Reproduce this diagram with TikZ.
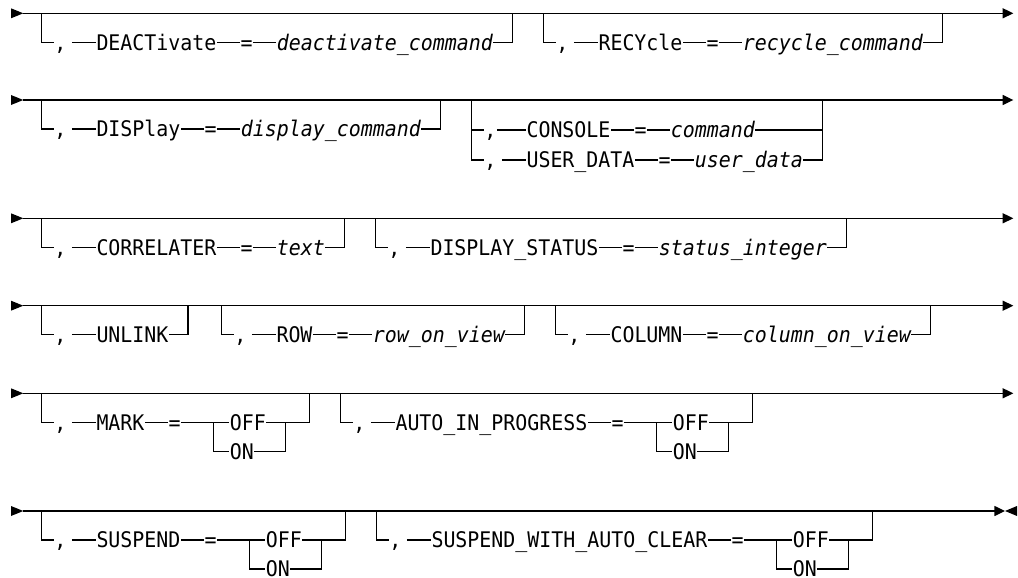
\documentclass[tikz,border=0pt]{standalone}
\usepackage{fontspec}
\newfontfamily\rrfont{DejaVu Sans Mono}[FakeStretch=0.927,ItalicFont={DejaVu Sans Mono Oblique}]
\usetikzlibrary{positioning,calc,arrows.meta}

\begin{document}
\begin{tikzpicture}[x=1pt,y=-1pt,line width=1.2pt,>={Triangle[length=10.6pt,width=10pt]},
  tok/.style={inner sep=0pt,anchor=west,text height=15.5pt,text depth=0pt,
    font=\rrfont\fontsize{21.5}{24}\selectfont},
  var/.style={tok,font=\rrfont\itshape\fontsize{21.5}{24}\selectfont}]
\useasboundingbox (0,0) rectangle (1018,578);
% main lines of the six rows
\foreach \r/\y/\e in {1/13.3/1013.3,2/100/1013.3,3/218.3/1013.3,4/305.7/1013.3,5/393.3/1013.3,6/511/1005}{
  \coordinate (r\r-s) at (23.3,\y);
  \coordinate (r\r-t) at (\e,\y);
  \fill (r\r-s) ++(-12.3,-5) -- (r\r-s) -- ++(-12.3,5) -- cycle;
  \draw[->] (r\r-s) -- (r\r-t);
}
\fill (r6-t) -- ++(12,-5) -- ++(0,10) -- cycle;
% optional keyword = value groups
\foreach \n/\xl/\yl/\kw/\val in {a/41.7/13.3/DEACTivate/deactivate\_command,
    b/543.7/13.3/RECYcle/recycle\_command,
    c/41.7/100/DISPlay/display\_command,
    d/41.7/218.3/CORRELATER/text,
    e/375.7/218.3/DISPLAY\_STATUS/status\_integer,
    f/221.7/305.7/ROW/row\_on\_view,
    g/555.7/305.7/COLUMN/column\_on\_view}{
  \coordinate (\n-L) at (\xl,\yl);
  \node[tok] (\n-c) at (\xl+12,\yl+29) {,};
  \node[tok, right=29pt of \n-c] (\n-k) {\kw};
  \node[tok, right=23pt of \n-k] (\n-e) {=};
  \node[var, right=23pt of \n-e] (\n-v) {\val};
  \coordinate (\n-R) at ($(\n-v.east)+(19,0)$);
  \draw (\n-L) |- (\n-c.west) (\n-k) -- (\n-e) (\n-e) -- (\n-v)
    (\n-v.east) -- (\n-R) -- (\n-R |- \n-L);
  \draw[shorten <=5pt] (\n-c) -- (\n-k);
}
% CONSOLE / USER_DATA choice
\coordinate (h-L) at (471.7,100);
\node[tok] (h-c1) at (483.7,130) {,};
\node[tok, right=29pt of h-c1] (h-k1) {CONSOLE};
\node[tok, right=23pt of h-k1] (h-e1) {=};
\node[var, right=23pt of h-e1] (h-v1) {command};
\node[tok] (h-c2) at (483.7,160) {,};
\node[tok, right=29pt of h-c2] (h-k2) {USER\_DATA};
\node[tok, right=23pt of h-k2] (h-e2) {=};
\node[var, right=23pt of h-e2] (h-v2) {user\_data};
\coordinate (h-R) at ($(h-v2.east)+(19,0)$);
\draw (h-L) |- (h-c1.west) (h-L) |- (h-c2.west)
  (h-k1) -- (h-e1) (h-e1) -- (h-v1)
  (h-k2) -- (h-e2) (h-e2) -- (h-v2)
  (h-v1.east) -- (h-v1.east -| h-R) (h-v2.east) -- (h-R) -- (h-R |- h-L);
\draw[shorten <=5pt] (h-c1) -- (h-k1) (h-c2) -- (h-k2);
% UNLINK
\coordinate (u-L) at (41.7,305.7);
\node[tok] (u-c) at (53.7,334.7) {,};
\node[tok, right=29pt of u-c] (u-k) {UNLINK};
\coordinate (u-R) at ($(u-k.east)+(19,0)$);
\draw (u-L) |- (u-c.west) (u-k.east) -- (u-R) -- (u-R |- u-L);
\draw[shorten <=5pt] (u-c) -- (u-k);
% OFF / ON groups
\foreach \n/\xl/\yl/\kw in {m/41.7/393.3/MARK,p/340.7/393.3/AUTO\_IN\_PROGRESS,
    s/41.7/511/SUSPEND,w/376.7/511/SUSPEND\_WITH\_AUTO\_CLEAR}{
  \coordinate (\n-L) at (\xl,\yl);
  \node[tok] (\n-c) at (\xl+12,\yl+29) {,};
  \node[tok, right=29pt of \n-c] (\n-k) {\kw};
  \node[tok, right=23pt of \n-k] (\n-e) {=};
  \coordinate (\n-f) at ($(\n-e.east)+(32,0)$);
  \node[tok] (\n-off) at ($(\n-f)+(16,0)$) {OFF};
  \node[tok] (\n-on) at ($(\n-f)+(16,29)$) {ON};
  \coordinate (\n-g) at ($(\n-off.east)+(19,0)$);
  \coordinate (\n-R) at ($(\n-g)+(24,0)$);
  \draw (\n-L) |- (\n-c.west) (\n-k) -- (\n-e) (\n-e) -- (\n-off)
    (\n-f) |- (\n-on.west) (\n-on.east) -| (\n-g)
    (\n-off.east) -- (\n-R) -- (\n-R |- \n-L);
  \draw[shorten <=5pt] (\n-c) -- (\n-k);
}
\end{tikzpicture}
\end{document}
